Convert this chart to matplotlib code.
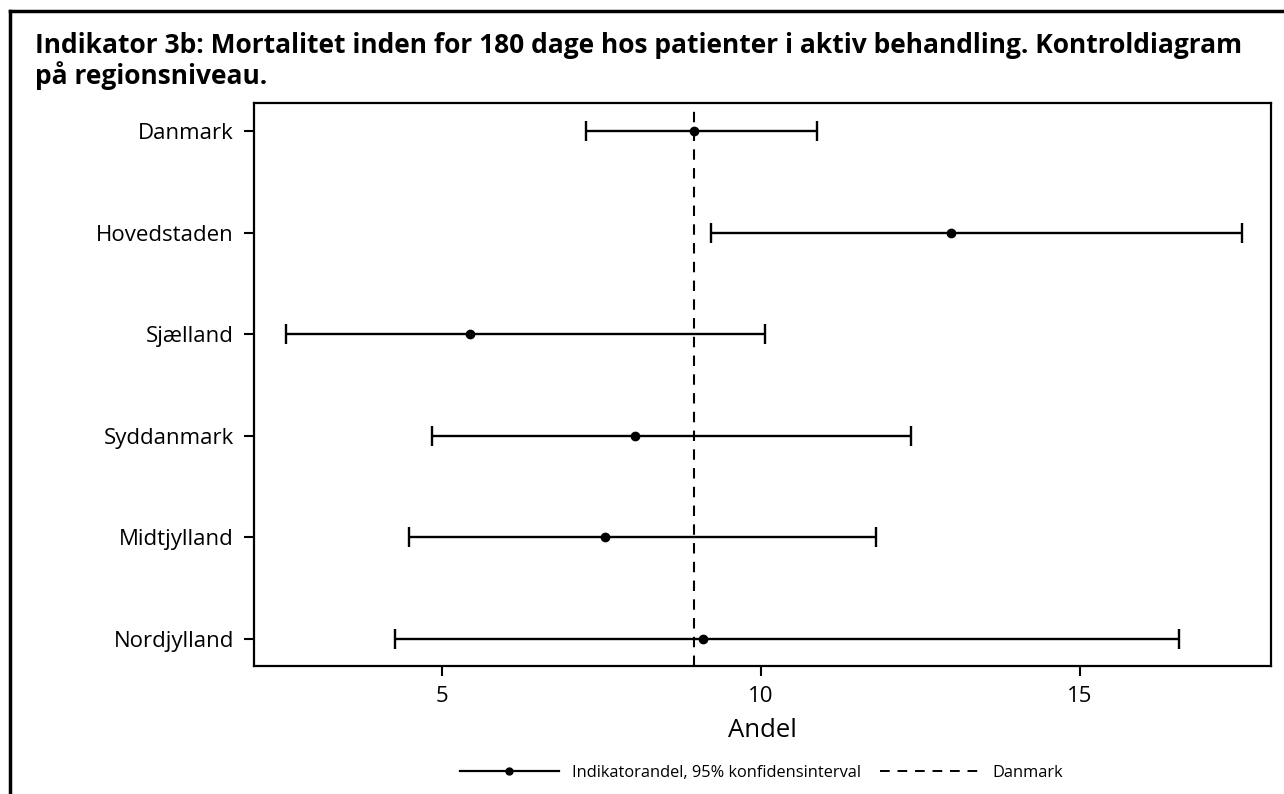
import matplotlib.pyplot as plt
from matplotlib.lines import Line2D

# regioner, indikatorandel (%) og 95% konfidensinterval
regions = ["Danmark", "Hovedstaden", "Sjælland", "Syddanmark", "Midtjylland", "Nordjylland"]
andel = [8.95, 12.98, 5.44, 8.02, 7.55, 9.09]
ci_low = [7.25, 9.22, 2.55, 4.84, 4.48, 4.26]
ci_high = [10.88, 17.55, 10.07, 12.36, 11.80, 16.56]
danmark_ref = 8.95

xticks = [5, 10, 15]

FONT = "Open Sans"

fig = plt.figure(figsize=(12.84, 7.94), dpi=100)
ax = fig.add_axes([0.1978, 0.1612, 0.7921, 0.7091])

ypos = list(range(len(regions)))
xerr = [[a - lo for a, lo in zip(andel, ci_low)],
        [hi - a for a, hi in zip(andel, ci_high)]]
ax.errorbar(andel, ypos, xerr=xerr, fmt="o", color="black", ms=6,
            ecolor="black", elinewidth=1.7, capsize=7.5, capthick=1.7, zorder=3)
ax.axvline(danmark_ref, color="black", lw=1.5, ls=(0, (5, 4)), zorder=2)

ax.set_xlim(2.05, 18.0)
ax.set_ylim(len(regions) - 1 + 0.27, -0.28)
ax.set_yticks(ypos)
ax.set_yticklabels(regions, fontsize=16, family=FONT)
ax.set_xticks(xticks)
ax.set_xticklabels([str(t) for t in xticks], fontsize=16, family=FONT)
ax.tick_params(axis="both", length=7.5, width=1.5, pad=7, colors="black")
for s in ax.spines.values():
    s.set_linewidth(1.6)
ax.set_xlabel("Andel", fontsize=18.5, family=FONT, labelpad=8)

fig.text(0.027, 0.960, "Indikator 3b: Mortalitet inden for 180 dage hos patienter i aktiv behandling. Kontroldiagram\npå regionsniveau.",
         ha="left", va="top", fontsize=19, fontweight="bold", family=FONT,
         linespacing=1.12)

# ramme til venstre og øverst
fig.add_artist(Line2D([0.008, 0.008], [0, 0.986], color="black", lw=2.5))
fig.add_artist(Line2D([0.008, 1.0], [0.986, 0.986], color="black", lw=2.5))

handles = [
    Line2D([], [], color="black", lw=1.6, marker="o", ms=5),
    Line2D([], [], color="black", lw=1.4, ls=(0, (5, 4))),
]
fig.legend(handles, ["Indikatorandel, 95% konfidensinterval", "Danmark"],
           loc="center", bbox_to_anchor=(0.593, 0.027), ncol=2, frameon=False,
           prop={"family": FONT, "size": 11.8}, handlelength=6, handletextpad=0.8,
           columnspacing=1.2)

fig.savefig("out.png", dpi=100)
